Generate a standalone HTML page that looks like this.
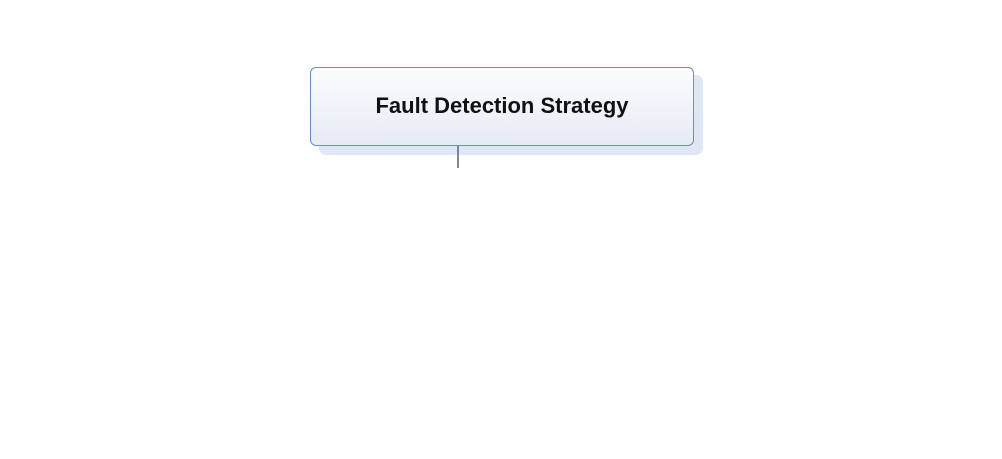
<!DOCTYPE html>
<html><head><style>
html,body{margin:0;padding:0;width:1002px;height:459px;overflow:hidden;background:#fff;}
.sh{position:absolute;left:319px;top:75px;width:384px;height:80px;background:#dfe7f3;border-radius:7px;}
.box{position:absolute;left:310px;top:67px;width:382px;height:75px;padding-bottom:2px;border:1.5px solid #6a8cc8;border-radius:6px;background:linear-gradient(#fbfcfe,#e6ebf5);display:flex;align-items:center;justify-content:center;font-family:"Liberation Sans",sans-serif;font-weight:bold;font-size:22px;color:#111;}
.ln{position:absolute;left:457px;top:146px;width:2px;height:22px;background:#7d8796;}
</style></head><body>
<div class="sh"></div>
<div class="box">Fault Detection Strategy</div>
<div class="ln"></div>
</body></html>
